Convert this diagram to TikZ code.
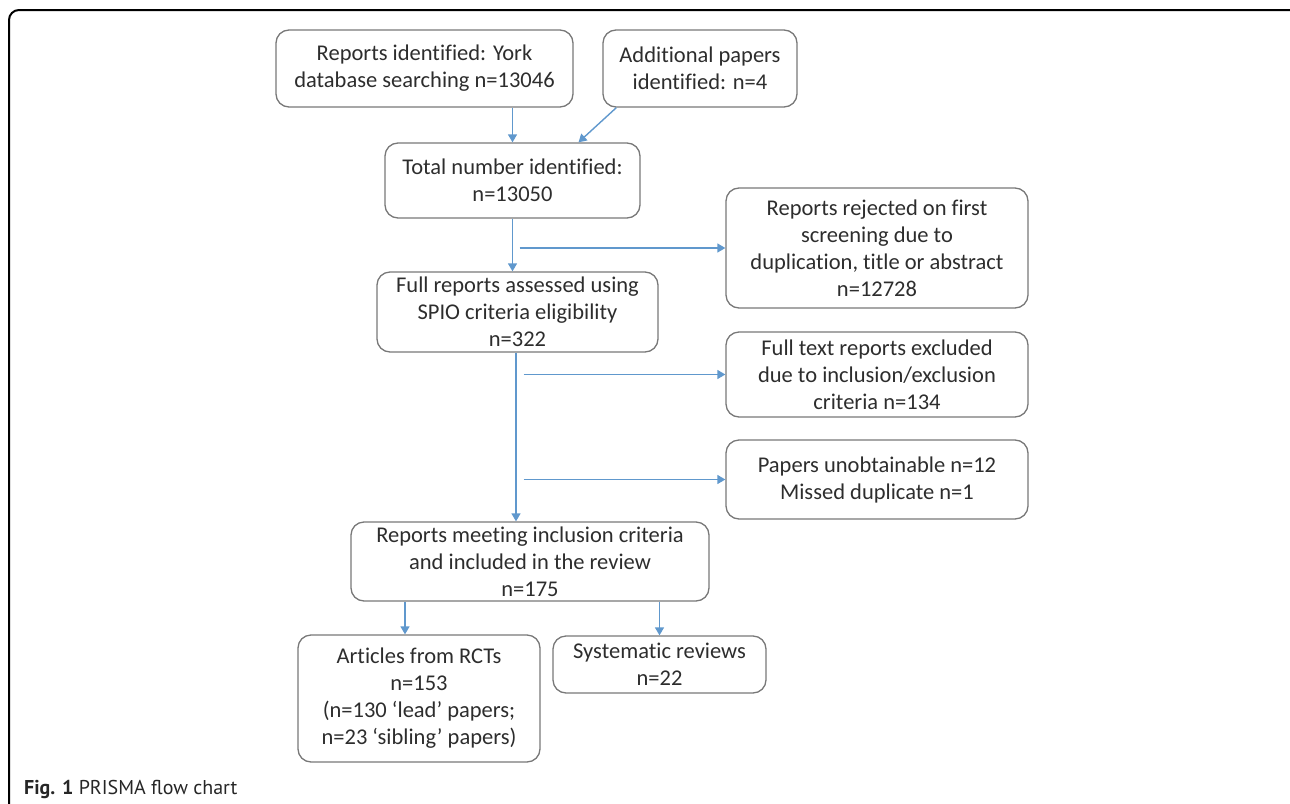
\documentclass[tikz,border=0pt]{standalone}
\usepackage{fontspec}
\setmainfont{Carlito}[Ligatures=NoCommon]
\newfontfamily\captionfont{PT Sans}
\usetikzlibrary{arrows.meta}
\definecolor{boxline}{RGB}{120,120,120}
\definecolor{flowblue}{RGB}{96,152,205}
\definecolor{boxtext}{RGB}{45,45,45}
\tikzstyle{report} = [rectangle, rounded corners=13pt, draw=boxline, line width=1.3pt, inner sep=0pt, align=center, text=boxtext, font=\fontsize{22.5}{27}\selectfont]
\tikzstyle{arrow} = [flowblue, line width=1.4pt, -{Triangle[width=9pt,length=8pt]}]

\begin{document}
\begin{tikzpicture}[x=1pt, y=-1pt]
\useasboundingbox (0,0) rectangle (1290,803);

% frame
\draw [line width=2pt, rounded corners=10pt] (9,812) -- (9,10) -- (1299,10) -- (1299,812);

\node (york) [report, minimum width=297pt, minimum height=77pt] at (424.5,68.5) {Reports identified: York\\database searching n=13046};
\node (extra) [report, minimum width=194pt, minimum height=77pt] at (700,68.5) {Additional papers\\identified: n=4};
\node (total) [report, minimum width=255pt, minimum height=75pt] at (512.5,180.5) {Total number identified:\\n=13050};
\node (full) [report, minimum width=281pt, minimum height=80pt] at (517.5,312) {Full reports assessed using\\SPIO criteria eligibility\\n=322};
\node (rejected) [report, minimum width=302pt, minimum height=120pt] at (877,248) {Reports rejected on first\\screening due to\\duplication, title or abstract\\n=12728};
\node (excluded) [report, minimum width=302pt, minimum height=85pt] at (877,374.5) {Full text reports excluded\\due to inclusion/exclusion\\criteria n=134};
\node (unobtained) [report, minimum width=302pt, minimum height=79pt] at (877,479.5) {Papers unobtainable n=12\\Missed duplicate n=1};
\node (included) [report, minimum width=358pt, minimum height=79pt] at (530,561.5) {Reports meeting inclusion criteria\\and included in the review\\n=175};
\node (rcts) [report, minimum width=242pt, minimum height=127pt] at (419,698.5) {Articles from RCTs\\n=153\\(n=130 ‘lead’ papers;\\n=23 ‘sibling’ papers)};
\node (sysrev) [report, minimum width=213pt, minimum height=57pt] at (659.5,664.5) {Systematic reviews\\n=22};

\node (caption) [anchor=west, inner sep=0pt, font=\captionfont\fontsize{20}{24}\selectfont, text=black!85] at (24,789) {\textbf{Fig. 1} PRISMA flow chart};

\coordinate (split) at ([xshift=7pt]total.south);
\coordinate (trunk) at ([xshift=-1.5pt]full.south);
\coordinate (side) at ([xshift=6pt]full.south);
\coordinate (left) at ([xshift=-14pt]rcts.north);

\draw [arrow] (york.south -| total.north) -- (total.north);
\draw [arrow] ([xshift=14pt]extra.south west) -- ([xshift=66pt]total.north);
\draw [arrow] (total.south) -- (total.south |- full.north);
\draw [arrow] (split |- rejected.west) -- (rejected.west);
\draw [arrow] (trunk) -- (trunk |- included.north);
\draw [arrow] (side |- excluded.west) -- (excluded.west);
\draw [arrow] (side |- unobtained.west) -- (unobtained.west);
\draw [arrow] (left |- included.south) -- (left);
\draw [arrow] (sysrev.north |- included.south) -- (sysrev.north);

\end{tikzpicture}
\end{document}
